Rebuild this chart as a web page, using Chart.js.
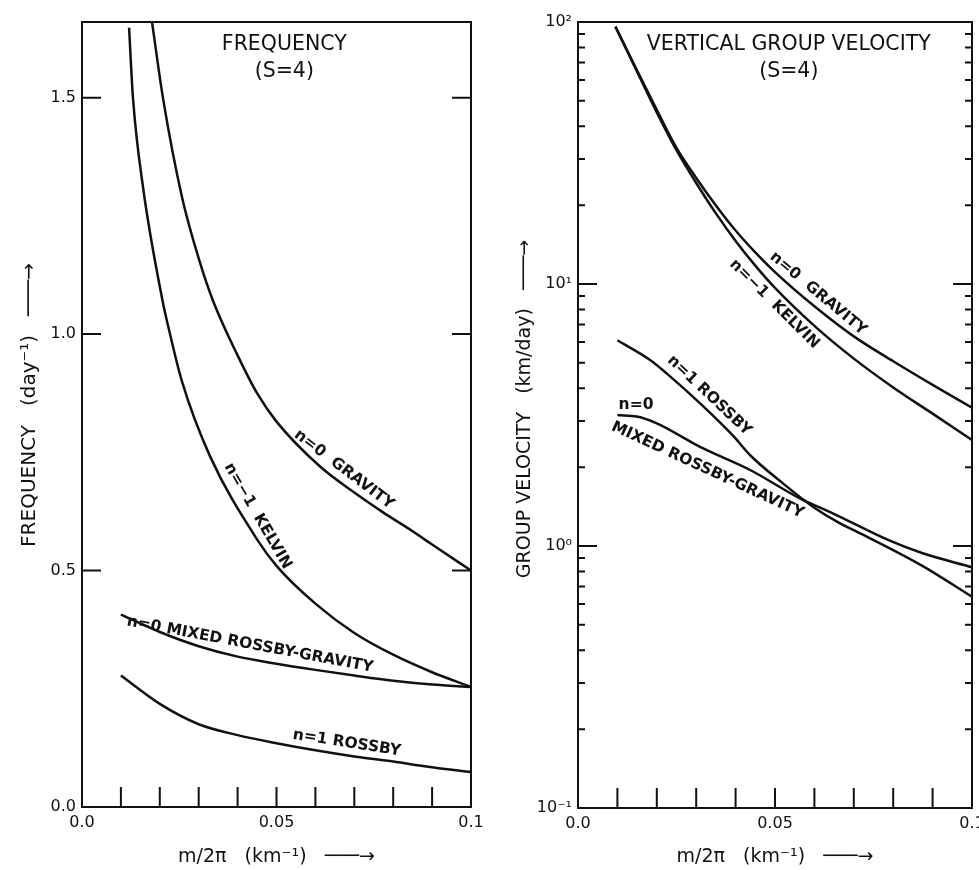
<!DOCTYPE html>
<html>
<head>
<meta charset="utf-8">
<script src="https://cdn.jsdelivr.net/npm/chart.js@4.4.1/dist/chart.umd.min.js"></script>
<style>
  html, body { margin: 0; padding: 0; background: #fff; }
  #wrap { position: relative; width: 979px; height: 870px; }
  #freqChart { position: absolute; left: 0; top: 0; }
  #velChart { position: absolute; left: 489px; top: 0; }
</style>
</head>
<body>
<div id="wrap">
  <canvas id="freqChart" width="489" height="870"></canvas>
  <canvas id="velChart" width="490" height="870"></canvas>
</div>
<script>
const INK = '#111';
const FONT = '"DejaVu Sans", sans-serif';

// x axis (m/2pi, km^-1), shared by both panels
const X_TICKS = [0, 0.05, 0.1];
const X_TICK_LABELS = ['0.0', '0.05', '0.1'];
const X_MARKS = [0.01, 0.02, 0.03, 0.04, 0.05, 0.06, 0.07, 0.08, 0.09];

// left panel: frequency (day^-1)
const FREQ_TICKS = [0, 0.5, 1.0, 1.5];
const FREQ_TICK_LABELS = ['0.0', '0.5', '1.0', '1.5'];
const FREQ_MARKS = [0.5, 1.0, 1.5];

const gravX = [0.018, 0.0208, 0.0257, 0.03, 0.0337, 0.04, 0.045, 0.05, 0.0612, 0.07, 0.0774, 0.085, 0.09, 0.1];
const gravFreq = [1.66, 1.5, 1.29, 1.16, 1.07, 0.955, 0.875, 0.815, 0.72, 0.665, 0.623, 0.583, 0.555, 0.5];

const kelvX = [0.0121, 0.0131, 0.0157, 0.0206, 0.0224, 0.0257, 0.0329, 0.045, 0.05, 0.06, 0.07, 0.08, 0.09, 0.1];
const kelvFreq = [1.648, 1.5, 1.31, 1.075, 1.008, 0.9, 0.742, 0.566, 0.51, 0.43, 0.368, 0.322, 0.285, 0.254];

const mixX = [0.01, 0.02, 0.03, 0.04, 0.05, 0.06, 0.07, 0.08, 0.09, 0.1];
const mixFreq = [0.407, 0.37, 0.34, 0.318, 0.303, 0.29, 0.278, 0.267, 0.259, 0.254];

const rossX = [0.01, 0.02, 0.03, 0.04, 0.05, 0.06, 0.07, 0.08, 0.09, 0.1];
const rossFreq = [0.278, 0.218, 0.175, 0.152, 0.135, 0.12, 0.107, 0.096, 0.084, 0.074];

// right panel: vertical group velocity (km/day), log axis
const VEL_TICKS = [0.1, 1, 10, 100];
const VEL_TICK_LABELS = ['10⁻¹', '10⁰', '10¹', '10²'];
const VEL_MAJOR = [1, 10];
const VEL_MINOR = [0.2, 0.3, 0.4, 0.5, 0.6, 0.7, 0.8, 0.9, 2, 3, 4, 5, 6, 7, 8, 9, 20, 30, 40, 50, 60, 70, 80, 90];

const gravVelX = [0.0095, 0.015, 0.02, 0.025, 0.03, 0.035, 0.04, 0.045, 0.05, 0.06, 0.07, 0.08, 0.09, 0.1];
const gravVel = [96, 65.3, 46.2, 33.1, 25.4, 19.95, 16.0, 13.2, 11.1, 8.22, 6.31, 5.07, 4.12, 3.37];
const kelvVel = [96, 64.6, 45.2, 32.4, 24.3, 18.6, 14.6, 11.75, 9.66, 6.92, 5.19, 4.03, 3.2, 2.54];

const rossVelX = [0.01, 0.0183, 0.0225, 0.031, 0.0394, 0.0437, 0.0521, 0.0597, 0.0665, 0.0705, 0.0874, 0.1];
const rossVel = [6.1, 5.13, 4.56, 3.5, 2.63, 2.22, 1.73, 1.41, 1.22, 1.14, 0.84, 0.64];

const mixVelX = [0.01, 0.0149, 0.02, 0.031, 0.0437, 0.0563, 0.0648, 0.079, 0.0873, 0.1];
const mixVel = [3.16, 3.12, 2.94, 2.39, 1.95, 1.52, 1.33, 1.05, 0.94, 0.83];

// curve labels: dataset index, x where the label sits, side of the curve
const FREQ_LABELS = [
  { ds: 0, x: 0.0655, text: 'n=0  GRAVITY', side: 1 },
  { ds: 1, x: 0.0425, text: 'n=−1  KELVIN', side: 1 },
  { ds: 2, x: 0.0425, text: 'n=0 MIXED ROSSBY-GRAVITY', side: 1, off: 14 },
  { ds: 3, x: 0.0676, text: 'n=1 ROSSBY', side: 1 }
];
const VEL_LABELS = [
  { ds: 0, x: 0.0590, text: 'n=0  GRAVITY', side: 1 },
  { ds: 1, x: 0.0520, text: 'n=−1  KELVIN', side: -1 },
  { ds: 3, x: 0.0312, text: 'n=1 ROSSBY', side: 1 },
  { ds: 2, x: 0.0142, text: 'n=0', side: 1, flat: true },
  { ds: 2, x: 0.0348, text: 'MIXED ROSSBY-GRAVITY', side: -1, off: 18 }
];

function pts(xs, ys) {
  return xs.map((x, i) => ({ x: x, y: ys[i] }));
}

function curve(data) {
  return {
    data: data,
    borderColor: INK,
    borderWidth: 2.5,
    pointRadius: 0,
    fill: false,
    cubicInterpolationMode: 'monotone'
  };
}

// value of a dataset at x (linear, or linear in log for log axes)
function valueAt(data, x, isLog) {
  for (let i = 0; i < data.length - 1; i++) {
    const a = data[i], b = data[i + 1];
    if (x >= a.x && x <= b.x) {
      const t = (x - a.x) / (b.x - a.x);
      if (isLog) return Math.pow(10, Math.log10(a.y) + t * (Math.log10(b.y) - Math.log10(a.y)));
      return a.y + t * (b.y - a.y);
    }
  }
  return data[data.length - 1].y;
}

function makeDecor(cfg) {
  return {
    id: 'decor',
    afterDatasetsDraw(chart) {
      const { ctx, chartArea: a } = chart;
      const xs = chart.scales.x, ys = chart.scales.y;
      const isLog = ys.type === 'logarithmic';
      ctx.save();

      // frame and inward tick marks
      ctx.strokeStyle = INK;
      ctx.lineWidth = 2;
      ctx.strokeRect(a.left, a.top, a.width, a.height);
      ctx.beginPath();
      X_MARKS.forEach(v => {
        const px = xs.getPixelForValue(v);
        ctx.moveTo(px, a.bottom);
        ctx.lineTo(px, a.bottom - 20);
      });
      const marks = (list, len) => list.forEach(v => {
        const py = ys.getPixelForValue(v);
        ctx.moveTo(a.left, py); ctx.lineTo(a.left + len, py);
        ctx.moveTo(a.right, py); ctx.lineTo(a.right - len, py);
      });
      marks(cfg.yMajor || [], 19);
      marks(cfg.yMinor || [], 7);
      ctx.stroke();

      // panel heading
      ctx.fillStyle = INK;
      ctx.textAlign = 'center';
      ctx.textBaseline = 'middle';
      ctx.font = '20.5px ' + FONT;
      const hx = a.left + cfg.headingPos * a.width;
      cfg.heading.forEach((t, i) => ctx.fillText(t, hx, a.top + 23 + i * 27));

      // curve labels, rotated along the curve
      ctx.font = 'bold 15.5px ' + FONT;
      cfg.labels.forEach(l => {
        const data = chart.data.datasets[l.ds].data;
        const dx = 0.003;
        const p0x = xs.getPixelForValue(l.x - dx);
        const p0y = ys.getPixelForValue(valueAt(data, l.x - dx, isLog));
        const p1x = xs.getPixelForValue(l.x + dx);
        const p1y = ys.getPixelForValue(valueAt(data, l.x + dx, isLog));
        const cx = xs.getPixelForValue(l.x);
        const cy = ys.getPixelForValue(valueAt(data, l.x, isLog));
        const len = Math.hypot(p1x - p0x, p1y - p0y);
        const tx = (p1x - p0x) / len, ty = (p1y - p0y) / len;
        const off = (l.off || 12) * l.side;
        const angle = l.flat ? 0 : Math.atan2(ty, tx);
        ctx.save();
        ctx.translate(cx + ty * off, cy - tx * off);
        ctx.rotate(angle);
        ctx.fillText(l.text, 0, 0);
        ctx.restore();
      });
      ctx.restore();
    }
  };
}

function xScale(height) {
  return {
    type: 'linear',
    min: 0,
    max: 0.1,
    grid: { display: false, drawTicks: false },
    border: { display: false },
    afterBuildTicks: s => { s.ticks = X_TICKS.map(v => ({ value: v })); },
    ticks: {
      autoSkip: false,
      maxRotation: 0,
      padding: 6,
      color: INK,
      font: { family: FONT, size: 16 },
      callback: v => X_TICK_LABELS[X_TICKS.indexOf(v)]
    },
    title: {
      display: true,
      text: 'm/2π   (km⁻¹)   ───→',
      color: INK,
      font: { family: FONT, size: 19 },
      padding: { top: 0, bottom: 2 }
    },
    afterFit: s => { s.height = height; s.paddingLeft = 0; s.paddingRight = 0; }
  };
}

function yTitle(text, size, pad) {
  return {
    display: true,
    text: text,
    color: INK,
    font: { family: FONT, size: size },
    padding: { top: pad, bottom: 0 }
  };
}

new Chart(document.getElementById('freqChart'), {
  type: 'line',
  data: {
    datasets: [
      curve(pts(gravX, gravFreq)),
      curve(pts(kelvX, kelvFreq)),
      curve(pts(mixX, mixFreq)),
      curve(pts(rossX, rossFreq))
    ]
  },
  options: {
    responsive: false,
    animation: false,
    layout: { padding: { top: 22, right: 18, left: 0, bottom: 0 } },
    scales: {
      x: xScale(63),
      y: {
        type: 'linear',
        min: 0,
        max: 1.66,
        grid: { display: false, drawTicks: false },
        border: { display: false },
        afterBuildTicks: s => { s.ticks = FREQ_TICKS.map(v => ({ value: v })); },
        ticks: {
          autoSkip: false,
          padding: 6,
          color: INK,
          font: { family: FONT, size: 16 },
          callback: v => FREQ_TICK_LABELS[FREQ_TICKS.indexOf(v)]
        },
        title: yTitle('   FREQUENCY   (day⁻¹)   ───→', 20, 18),
        afterFit: s => { s.width = 82; s.paddingTop = 0; s.paddingBottom = 0; }
      }
    },
    plugins: {
      legend: { display: false },
      tooltip: { enabled: false }
    }
  },
  plugins: [makeDecor({
    yMajor: FREQ_MARKS,
    heading: ['FREQUENCY', '(S=4)'],
    headingPos: 0.52,
    labels: FREQ_LABELS
  })]
});

new Chart(document.getElementById('velChart'), {
  type: 'line',
  data: {
    datasets: [
      curve(pts(gravVelX, gravVel)),
      curve(pts(gravVelX, kelvVel)),
      curve(pts(mixVelX, mixVel)),
      curve(pts(rossVelX, rossVel))
    ]
  },
  options: {
    responsive: false,
    animation: false,
    layout: { padding: { top: 22, right: 7, left: 0, bottom: 0 } },
    scales: {
      x: xScale(62),
      y: {
        type: 'logarithmic',
        min: 0.1,
        max: 100,
        grid: { display: false, drawTicks: false },
        border: { display: false },
        afterBuildTicks: s => { s.ticks = VEL_TICKS.map(v => ({ value: v })); },
        ticks: {
          autoSkip: false,
          padding: 6,
          color: INK,
          font: { family: FONT, size: 16 },
          callback: v => VEL_TICK_LABELS[VEL_TICKS.indexOf(v)]
        },
        title: yTitle('  GROUP VELOCITY   (km/day)   ───→', 19, 25),
        afterFit: s => { s.width = 89; s.paddingTop = 0; s.paddingBottom = 0; }
      }
    },
    plugins: {
      legend: { display: false },
      tooltip: { enabled: false }
    }
  },
  plugins: [makeDecor({
    yMajor: VEL_MAJOR,
    yMinor: VEL_MINOR,
    heading: ['VERTICAL GROUP VELOCITY', '(S=4)'],
    headingPos: 0.535,
    labels: VEL_LABELS
  })]
});
</script>
</body>
</html>
